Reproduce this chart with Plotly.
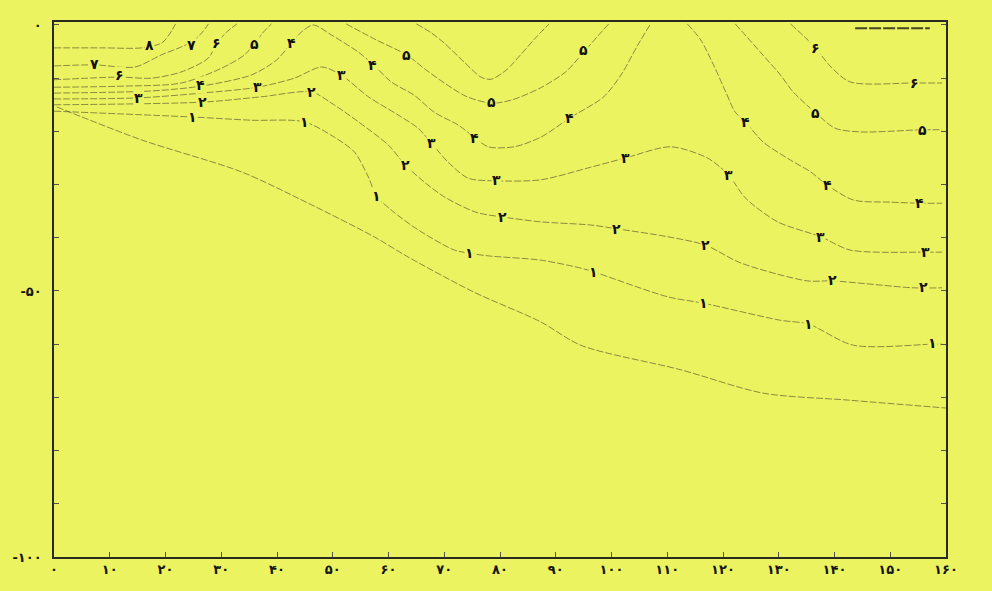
import plotly.graph_objects as go

# ---- contour lines (distance along section, depth) ----
c8_x = [0, 8.6, 15.7, 19.3, 20.6, 21.8]
c8_y = [-4.3, -4.3, -4.3, -3.4, -1.9, 0.2]

c7_x = [0, 7.3, 14.5, 19.3, 22.9, 24.7, 26.5, 27.7]
c7_y = [-7.7, -7.5, -7.9, -5.6, -4.1, -3.2, -1.5, 0.2]

c6_x = [0, 11.8, 17.5, 22.9, 27.7, 29.2, 31.0, 32.8]
c6_y = [-10.3, -9.8, -10.0, -8.8, -6.2, -3.4, -1.3, 0.2]

c5_x = [0, 12.2, 22.9, 30.1, 34.2, 36.0, 37.6, 39.0]
c5_y = [-11.7, -11.5, -10.9, -8.1, -5.6, -3.4, -1.3, 0.2]

c4_x = [0, 17.5, 26.3, 35.4, 39.9, 42.6, 44.4, 46.5, 49.8, 54.6, 57.1, 60.5, 64.6,
        68.2, 72.5, 75.5, 77.9, 82.5, 87.3, 92.5, 98.6, 101.7, 104.7, 107.0]
c4_y = [-12.8, -12.4, -11.5, -9.4, -6.6, -3.4, -1.3, 0, -1.9, -5.1, -7.3, -10.7, -13.2,
        -16.4, -18.8, -21.2, -22.9, -22.9, -21.1, -17.5, -13.5, -9.4, -3.8, 0.2]

c3_x = [0, 15.2, 26.5, 36.5, 43.1, 48.0, 51.5, 56.4, 61.7, 65.3, 67.7, 70.7, 74.3,
        79.3, 87.3, 95.7, 102.5, 110.6, 117.2, 121.0, 124.0, 129.8, 137.5, 142.8,
        156.4, 159.3]
c3_y = [-13.9, -13.7, -12.8, -11.7, -10.0, -7.9, -9.4, -13.5, -16.9, -19.4, -22.2,
        -25.8, -28.8, -29.3, -29.1, -26.9, -25.0, -22.9, -25.0, -28.2, -32.5, -37.0,
        -39.8, -42.3, -42.7, -42.7]

c2_x = [0, 26.7, 37.2, 46.2, 49.8, 54.6, 60.0, 63.0, 66.4, 70.0, 75.7, 80.5, 87.3,
        96.3, 100.9, 110.1, 116.9, 123.1, 135.1, 139.6, 154.1, 159.3]
c2_y = [-15.0, -14.5, -13.5, -12.6, -14.7, -18.2, -22.6, -26.3, -29.5, -32.3, -35.2,
        -36.1, -37.0, -37.6, -38.3, -39.8, -41.4, -44.7, -48.1, -48.1, -49.4, -49.4]

c1_x = [0, 24.9, 35.4, 44.9, 50.3, 53.9, 56.4, 57.8, 60.5, 65.3, 71.8, 74.5, 77.9,
        87.3, 94.5, 96.8, 110.1, 116.5, 130.3, 135.3, 143.4, 157.5, 159.3]
c1_y = [-16.2, -17.3, -17.9, -18.2, -21.1, -23.9, -28.6, -32.1, -34.8, -38.5, -42.3,
        -42.9, -43.4, -44.2, -45.7, -46.4, -51.1, -52.3, -55.5, -56.2, -60.2, -60.0,
        -60.0]

c0_x = [0.5, 15.7, 33.6, 45.6, 57.4, 63.5, 75.3, 87.3, 94.5, 112.4, 127.2, 142.3, 160]
c0_y = [-15.4, -21.6, -27.6, -33.5, -39.8, -43.6, -50.2, -55.8, -60.2, -64.8, -69.2,
        -70.5, -72.0]

c5m_x = [52.4, 57.8, 63.2, 66.8, 70.3, 73.9, 78.4, 82.1, 87.3, 91.8, 95.0, 97.7, 99.5]
c5m_y = [0.2, -2.8, -5.6, -8.5, -11.1, -13.4, -14.7, -14.1, -11.8, -8.8, -5.1, -1.9, 0.2]

c6m_x = [65.0, 67.7, 70.0, 73.6, 76.6, 78.4, 81.1, 83.7, 86.4, 88.8]
c6m_y = [0.2, -1.5, -3.4, -7.0, -9.8, -10.2, -8.5, -5.6, -2.4, 0.2]

c4r_x = [113.6, 116.0, 118.3, 120.5, 122.2, 124.0, 127.2, 132.1, 135.7, 138.7, 143.4,
         150.0, 155.3, 159.3]
c4r_y = [0.2, -2.8, -7.5, -12.6, -16.4, -18.2, -22.0, -25.4, -27.6, -30.1, -32.9,
         -33.3, -33.5, -33.5]

c5r_x = [122.2, 126.7, 130.3, 132.6, 136.6, 140.1, 144.6, 155.7, 159.3]
c5r_y = [0.2, -5.1, -9.4, -12.6, -16.5, -19.4, -20.1, -19.7, -19.7]

c6r_x = [132.1, 134.8, 136.6, 139.2, 142.8, 154.3, 159.3]
c6r_y = [0.2, -2.4, -4.3, -7.7, -10.7, -10.9, -10.9]

c7r_x = [143.7, 157.1]
c7r_y = [-0.6, -0.6]

# ---- contour value labels ----
lbl_text = ["۸", "۷", "۷", "۶", "۶", "۵", "۴", "۴", "۳", "۳", "۲", "۲", "۱", "۱",
            "۳", "۴", "۵", "۵", "۴", "۳", "۲", "۱", "۳", "۲", "۱",
            "۵", "۴", "۳", "۴", "۳", "۲", "۲", "۱", "۱",
            "۶", "۶", "۵", "۵", "۴", "۴", "۳", "۳", "۲", "۲", "۱", "۱"]
lbl_x = [17.2, 7.3, 24.7, 11.8, 29.2, 36.0, 42.6, 26.3, 36.5, 15.2, 26.7, 46.2, 24.9, 44.9,
         51.5, 57.1, 63.2, 78.4, 75.5, 67.7, 63.0, 57.8, 79.3, 80.5, 74.5,
         95.0, 92.5, 102.5, 124.0, 121.0, 100.9, 116.9, 96.8, 116.5,
         136.6, 154.3, 136.6, 155.7, 138.7, 155.3, 137.5, 156.4, 139.6, 155.9, 135.3, 157.5]
lbl_y = [-3.8, -7.3, -3.8, -9.4, -3.4, -3.6, -3.4, -11.3, -11.7, -13.7, -14.5, -12.6, -17.3, -18.2,
         -9.4, -7.5, -5.6, -14.5, -21.2, -22.2, -26.3, -32.1, -29.1, -36.1, -42.9,
         -4.7, -17.5, -25.0, -18.2, -28.2, -38.3, -41.4, -46.4, -52.3,
         -4.3, -10.9, -16.5, -19.7, -30.1, -33.5, -39.8, -42.7, -47.9, -49.2, -56.2, -59.8]

# ---- axis ticks ----
x_ticks = list(range(0, 161, 10))
x_tick_text = ["۰", "۱۰", "۲۰", "۳۰", "۴۰", "۵۰", "۶۰", "۷۰", "۸۰", "۹۰",
               "۱۰۰", "۱۱۰", "۱۲۰", "۱۳۰", "۱۴۰", "۱۵۰", "۱۶۰"]
y_ticks = [0, -10, -20, -30, -40, -50, -60, -70, -80, -90, -100]
y_tick_text = ["۰", "", "", "", "", "-۵۰", "", "", "", "", "-۱۰۰"]

BG = "#ECF360"
LINE = "rgba(70,70,45,0.6)"
FONT = "DejaVu Sans"

lines = [
    (c8_x, c8_y), (c7_x, c7_y), (c6_x, c6_y), (c5_x, c5_y), (c4_x, c4_y),
    (c3_x, c3_y), (c2_x, c2_y), (c1_x, c1_y), (c0_x, c0_y),
    (c5m_x, c5m_y), (c6m_x, c6m_y), (c4r_x, c4r_y), (c5r_x, c5r_y), (c6r_x, c6r_y),
]

fig = go.Figure()
for xs, ys in lines:
    fig.add_trace(go.Scatter(
        x=xs, y=ys, mode="lines",
        line=dict(color=LINE, width=1, dash="7px,2px", shape="spline", smoothing=0.8),
        hoverinfo="skip", showlegend=False,
    ))
fig.add_trace(go.Scatter(
    x=c7r_x, y=c7r_y, mode="lines",
    line=dict(color="rgba(40,40,25,0.85)", width=2, dash="12px,2px"),
    hoverinfo="skip", showlegend=False,
))

for t, x, y in zip(lbl_text, lbl_x, lbl_y):
    fig.add_annotation(
        x=x, y=y, text="<b>" + t + "</b>", showarrow=False,
        font=dict(family=FONT, size=14, color="#111111"),
        bgcolor=BG, borderpad=0,
    )

fig.update_xaxes(
    range=[0, 160], tickvals=x_ticks,
    ticktext=["<b>" + t + "</b>" for t in x_tick_text],
    showline=True, mirror=True, linecolor="#2a2a20", linewidth=1.5,
    ticks="inside", ticklen=5, tickcolor="#555544", tickwidth=1,
    showgrid=False, zeroline=False,
    tickfont=dict(family=FONT, size=13, color="#151510"),
)
fig.update_yaxes(
    range=[-100, 0.56], tickvals=y_ticks,
    ticktext=["<b>" + t + "</b>" if t else "" for t in y_tick_text],
    showline=True, mirror="ticks", linecolor="#2a2a20", linewidth=1.5,
    ticks="inside", ticklen=5, tickcolor="#555544", tickwidth=1,
    showgrid=False, zeroline=False, ticklabelstandoff=8,
    tickfont=dict(family=FONT, size=13, color="#151510"),
)
fig.update_layout(
    width=992, height=591,
    margin=dict(l=52, r=46, t=22, b=34),
    paper_bgcolor=BG, plot_bgcolor=BG,
    showlegend=False,
)

fig.write_html("out.html")
